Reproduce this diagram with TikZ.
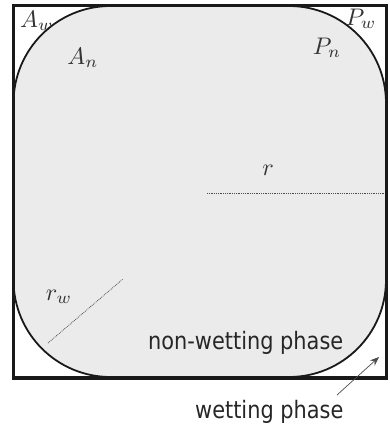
\documentclass[tikz,border=0pt]{standalone}
\usepackage{fontspec}
\usepackage{graphicx}
\usetikzlibrary{arrows.meta}
\newfontfamily\labfont[FakeStretch=0.87]{DejaVu Sans}
\definecolor{fillc}{RGB}{235,235,235}
\definecolor{linec}{RGB}{25,25,25}
\newcommand{\mylabmath}[1]{\scalebox{2.4}{$#1$}}
\tikzset{
  mathlab/.style={inner sep=0pt, text=black!80},
  textlab/.style={inner sep=0pt, font=\labfont\fontsize{24}{24}\selectfont, text=black!85},
  radline/.style={densely dotted, line width=0.8pt, black!70},
  pointer/.style={-{Stealth[length=9pt,width=7pt]}, line width=0.7pt, black!70}
}
\begin{document}
\begin{tikzpicture}[x=1pt,y=-1pt]
\path[use as bounding box] (0,0) rectangle (390,425);
% non-wetting phase body
\draw[fill=fillc, draw=linec, line width=1.8pt, rounded corners=97pt] (13.5,6) rectangle (386,377);
% tube walls
\draw[linec, line width=3pt] (13.5,6) rectangle (386.5,377.5);
\draw[linec, line width=4pt] (12,378) -- (388,378);
% labels
\node[mathlab] (aw) at (37,21) {\mylabmath{A_w}};
\node[mathlab] (an) at (83,58) {\mylabmath{A_n}};
\node[mathlab] (pw) at (361,19) {\mylabmath{P_w}};
\node[mathlab] (pn) at (327,48) {\mylabmath{P_n}};
\node[mathlab] (r) at (268,170) {\mylabmath{r}};
\node[mathlab] (rw) at (59,297) {\mylabmath{r_w}};
% radius lines
\coordinate (ra) at (207,193);
\coordinate (rb) at (385,193);
\draw[radline] (ra) -- (rb);
\coordinate (rwa) at (48,343);
\coordinate (rwb) at (123,279);
\draw[radline] (rwa) -- (rwb);
% phase labels
\node[textlab, anchor=base west] (nw) at (148,349) {non-wetting phase};
\node[textlab, anchor=base west] (wp) at (195,418) {wetting phase};
\coordinate (arrs) at (337,395);
\coordinate (arre) at (379,357);
\draw[pointer] (arrs) -- (arre);
\end{tikzpicture}
\end{document}
